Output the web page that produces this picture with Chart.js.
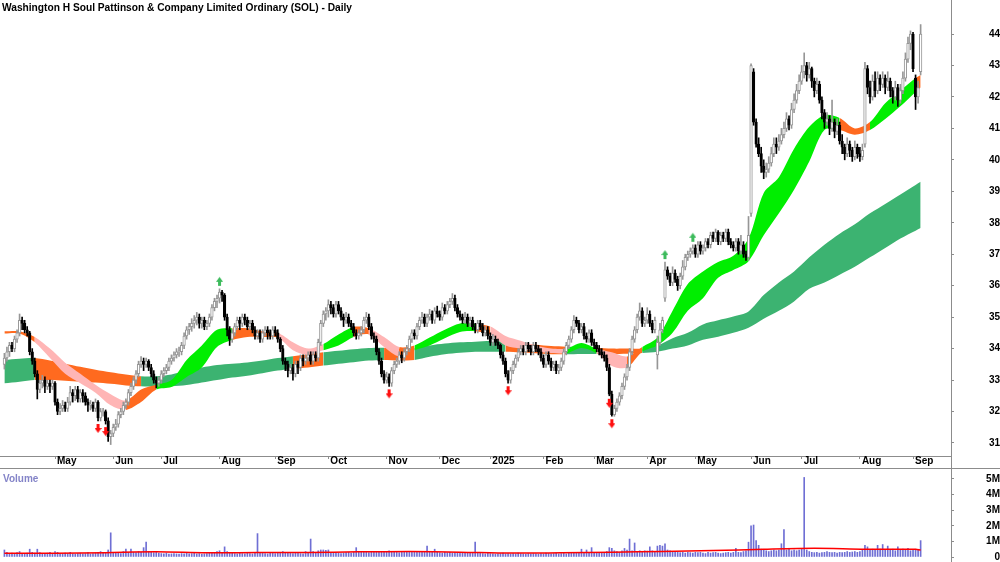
<!DOCTYPE html>
<html>
<head>
<meta charset="utf-8">
<script src="https://cdn.jsdelivr.net/npm/chart.js"></script>
<style>
body{margin:0;background:#fff;width:1000px;height:562px;overflow:hidden;position:relative;font-family:"Liberation Sans",Arial,sans-serif}
canvas{position:absolute;left:0}
#price{top:0}
#vol{top:469px}
#title{position:absolute;left:2px;top:2px;font-weight:bold;font-size:10.2px;color:#000;white-space:nowrap}
#vlabel{position:absolute;left:3px;top:473px;font-weight:bold;font-size:10px;color:#8484c8}
.rule{position:absolute;background:#8c8c8c}
</style>
</head>
<body>
<canvas id="price" width="1000" height="469"></canvas>
<canvas id="vol" width="1000" height="93"></canvas>
<div id="title">Washington H Soul Pattinson &amp; Company Limited Ordinary (SOL) - Daily</div>
<div id="vlabel">Volume</div>
<div class="rule" style="left:0;top:468px;width:1000px;height:1px"></div>
<div class="rule" style="left:951px;top:456px;width:1px;height:13px"></div>
<script>
// daily bars, 2 Apr 2024 .. 4 Sep 2025 (index = trading day)
const opens = [
33.5,33.7,33.9,34.1,34.0,34.3,34.5,34.9,34.8,34.6,
34.5,33.9,33.6,33.2,32.7,32.9,33.0,32.8,32.9,32.8,
32.9,32.3,32.0,32.1,32.2,32.1,32.3,32.6,32.5,32.7,
32.4,32.6,32.5,32.3,32.2,32.2,32.1,32.3,31.8,32.0,
32.0,31.7,31.2,31.3,31.5,31.6,31.9,32.0,32.2,32.3,
32.6,32.8,33.0,33.2,33.5,33.6,33.5,33.6,33.4,33.2,
33.0,32.9,33.0,33.2,33.3,33.4,33.6,33.7,33.8,33.9,
33.9,34.1,34.4,34.6,34.7,34.8,34.9,35.0,34.8,34.9,
34.7,34.8,35.0,35.3,35.5,35.6,35.8,35.7,35.0,34.6,
34.3,34.5,34.7,34.9,34.8,35.0,34.9,34.7,34.8,34.6,
34.4,34.5,34.3,34.5,34.6,34.5,34.4,34.6,34.5,34.3,
34.0,33.6,33.5,33.3,33.4,33.2,33.5,33.4,33.7,33.6,
33.7,33.8,33.6,33.8,33.7,34.2,34.8,35.1,35.2,35.4,
35.3,35.1,35.4,35.2,35.0,34.9,35.0,34.8,34.7,34.5,
34.4,34.5,34.6,34.9,35.0,34.7,34.4,34.3,33.9,33.6,
33.2,33.0,33.1,32.9,33.3,33.5,33.6,33.8,33.7,33.9,
34.0,34.3,34.5,34.4,34.7,34.9,35.0,34.8,35.0,35.1,
34.9,35.2,35.1,35.0,35.3,35.2,35.4,35.5,35.6,35.3,
35.1,35.0,34.9,35.0,34.8,34.9,34.7,34.6,34.8,34.7,
34.5,34.6,34.4,34.2,34.3,34.2,34.1,33.8,33.6,33.2,
33.0,33.3,33.5,33.7,33.9,34.0,33.9,34.1,34.0,33.9,
34.1,34.0,33.9,33.7,33.5,33.8,33.6,33.4,33.5,33.3,
33.4,33.6,33.9,34.1,34.3,34.6,34.9,34.8,34.6,34.7,
34.4,34.3,34.5,34.2,34.1,34.0,33.9,33.8,33.7,33.4,
32.55,31.9,32.1,32.3,32.5,32.8,33.1,33.4,33.9,34.3,
34.6,35.0,35.2,34.8,34.9,35.1,34.8,34.6,33.8,34.2,
34.6,35.6,36.5,36.3,36.1,36.4,36.2,36.0,36.3,36.6,
36.9,37.0,37.1,37.2,37.0,37.3,37.1,37.2,37.4,37.3,
37.6,37.5,37.7,37.4,37.6,37.5,37.7,37.4,37.3,37.2,
37.4,37.1,37.3,37.0,36.9,38.3,42.8,41.2,40.5,40.2,
39.8,39.6,39.7,39.9,40.2,40.5,40.4,40.6,40.8,41.0,
41.3,41.1,41.6,41.9,42.2,42.5,42.8,43.0,42.7,42.9,
42.5,42.2,42.4,41.9,41.5,41.2,41.3,41.0,41.2,40.9,
41.1,40.6,40.4,40.2,40.5,40.3,40.1,40.4,40.2,40.1,
40.5,42.9,42.3,42.0,42.5,42.2,42.6,42.4,42.6,42.3,
42.5,42.2,42.0,42.3,41.9,42.2,42.6,43.2,43.7,44.0,
42.6,42.0,42.8];

const highs = [
33.85,34.05,34.2,34.2,34.4,34.6,35.1,35.0,34.9,34.7,
34.55,34.0,33.7,33.3,33.0,33.15,33.1,33.0,33.0,33.0,
32.95,32.4,32.25,32.35,32.3,32.45,32.8,32.7,32.8,32.8,
32.7,32.7,32.6,32.4,32.35,32.3,32.4,32.35,32.1,32.1,
32.05,31.8,31.4,31.6,31.75,32.0,32.1,32.3,32.4,32.7,
32.9,33.1,33.3,33.6,33.75,33.7,33.7,33.65,33.5,33.3,
33.1,33.1,33.3,33.4,33.5,33.7,33.8,33.9,34.0,34.05,
34.2,34.5,34.7,34.8,34.95,35.05,35.15,35.1,35.0,35.0,
34.9,35.1,35.4,35.6,35.7,35.9,35.85,35.75,35.1,34.7,
34.6,34.8,35.0,35.0,35.1,35.1,35.0,34.9,34.9,34.7,
34.6,34.6,34.6,34.7,34.7,34.6,34.7,34.7,34.6,34.35,
34.1,33.7,33.6,33.5,33.5,33.6,33.6,33.8,33.8,33.8,
33.9,33.9,33.9,33.9,34.3,34.9,35.2,35.3,35.55,35.5,
35.4,35.5,35.5,35.3,35.1,35.15,35.1,34.9,34.8,34.6,
34.6,34.7,35.0,35.15,35.1,34.8,34.5,34.4,34.0,33.7,
33.3,33.25,33.2,33.4,33.6,33.7,33.9,33.9,34.0,34.1,
34.4,34.6,34.6,34.8,35.0,35.15,35.1,35.1,35.25,35.2,
35.3,35.35,35.2,35.45,35.4,35.5,35.6,35.75,35.7,35.4,
35.2,35.1,35.15,35.1,35.0,35.0,34.8,34.9,34.9,34.8,
34.7,34.7,34.5,34.45,34.4,34.3,34.15,33.9,33.7,33.3,
33.4,33.6,33.8,34.0,34.1,34.1,34.2,34.2,34.1,34.2,
34.2,34.1,34.0,33.8,33.9,33.9,33.7,33.6,33.6,33.5,
33.7,34.0,34.2,34.4,34.7,35.05,35.0,34.9,34.8,34.8,
34.5,34.6,34.6,34.3,34.2,34.1,34.0,33.9,33.8,33.5,
32.65,32.2,32.4,32.6,32.9,33.2,33.5,34.0,34.4,34.7,
35.1,35.45,35.3,35.0,35.3,35.2,34.9,35.0,34.4,34.8,
35.0,36.75,36.6,36.4,36.6,36.5,36.3,36.4,36.8,37.0,
37.1,37.2,37.3,37.3,37.4,37.4,37.3,37.5,37.5,37.7,
37.7,37.8,37.75,37.7,37.7,37.8,37.8,37.5,37.4,37.5,
37.5,37.6,37.4,37.1,38.2,43.05,42.9,41.3,40.7,40.4,
40.0,39.9,40.1,40.4,40.7,40.7,40.8,41.0,41.2,41.5,
41.4,41.8,42.1,42.4,42.7,43.0,43.4,43.1,43.1,42.95,
42.6,42.6,42.5,42.0,41.6,41.5,41.4,41.9,41.3,41.3,
41.2,40.8,40.5,40.7,40.6,40.4,40.6,40.5,40.4,40.5,
43.1,43.0,42.5,42.7,42.8,42.8,42.7,42.8,42.7,42.8,
42.6,42.3,42.5,42.4,42.4,42.8,43.4,43.9,44.1,44.05,
42.7,42.5,44.3];

const lows = [
33.35,33.6,33.75,33.9,33.9,34.2,34.4,34.6,34.5,34.4,
33.8,33.5,33.1,32.4,32.6,32.75,32.6,32.7,32.6,32.7,
32.2,31.9,31.9,32.0,32.0,32.0,32.2,32.3,32.35,32.3,
32.3,32.3,32.2,32.0,32.05,32.0,32.0,31.7,31.7,31.85,
31.6,31.05,30.95,31.2,31.4,31.5,31.8,31.9,32.1,32.2,
32.5,32.7,32.9,33.1,33.4,33.3,33.4,33.3,33.1,32.9,
32.75,32.8,32.9,33.1,33.2,33.3,33.5,33.6,33.7,33.75,
33.8,34.0,34.3,34.45,34.55,34.65,34.75,34.65,34.65,34.6,
34.6,34.7,34.9,35.2,35.3,35.45,35.5,34.9,34.4,34.1,
34.2,34.4,34.6,34.6,34.7,34.75,34.6,34.6,34.5,34.3,
34.3,34.2,34.2,34.4,34.3,34.3,34.3,34.4,34.2,33.9,
33.5,33.3,33.1,33.2,33.0,33.1,33.2,33.3,33.45,33.5,
33.6,33.5,33.5,33.6,33.6,34.1,34.7,34.9,35.0,35.1,
35.0,35.0,35.1,34.9,34.7,34.8,34.7,34.6,34.4,34.3,
34.3,34.4,34.5,34.8,34.6,34.3,34.2,33.8,33.5,33.1,
32.9,32.9,32.8,32.8,33.2,33.4,33.5,33.55,33.6,33.8,
33.9,34.2,34.3,34.3,34.6,34.8,34.7,34.7,34.9,34.8,
34.8,35.0,34.9,34.9,35.1,35.1,35.3,35.4,35.2,35.0,
34.9,34.8,34.8,34.7,34.7,34.6,34.5,34.5,34.6,34.4,
34.4,34.3,34.1,34.1,34.1,34.0,33.7,33.5,33.1,32.9,
32.9,33.2,33.4,33.6,33.8,33.8,33.8,33.9,33.8,33.8,
33.9,33.8,33.6,33.4,33.4,33.5,33.3,33.3,33.2,33.2,
33.3,33.5,33.8,34.0,34.2,34.5,34.7,34.5,34.5,34.3,
34.2,34.2,34.1,34.0,33.9,33.8,33.7,33.6,33.3,32.5,
31.85,31.85,32.0,32.2,32.4,32.7,33.0,33.3,33.8,34.2,
34.5,34.9,34.7,34.7,34.8,34.7,34.5,34.5,33.35,34.1,
34.5,35.5,36.2,36.0,36.0,36.1,35.85,35.9,36.2,36.5,
36.8,36.9,37.0,36.9,36.9,37.0,37.0,37.1,37.2,37.2,
37.4,37.4,37.3,37.3,37.4,37.4,37.3,37.2,37.1,37.1,
37.0,37.0,36.9,36.8,36.8,38.2,41.1,40.4,40.1,39.6,
39.4,39.45,39.6,39.8,40.1,40.2,40.3,40.5,40.7,40.9,
40.95,41.0,41.5,41.8,42.1,42.4,42.6,42.5,42.6,42.3,
42.0,42.1,41.8,41.3,41.0,41.1,40.8,40.9,40.7,40.8,
40.5,40.2,40.0,40.1,40.1,39.95,40.0,40.05,39.95,40.0,
40.4,42.1,41.8,41.9,42.0,42.1,42.2,42.3,42.1,42.2,
42.0,41.8,41.9,41.7,41.8,42.1,42.5,43.1,43.5,42.8,
41.6,41.8,42.7];

const closes = [
33.7,33.9,34.1,34.0,34.3,34.5,34.9,34.8,34.6,34.5,
33.9,33.6,33.2,32.7,32.9,33.0,32.8,32.9,32.8,32.9,
32.3,32.0,32.1,32.2,32.1,32.3,32.6,32.5,32.7,32.4,
32.6,32.5,32.3,32.2,32.2,32.1,32.3,31.8,32.0,32.0,
31.7,31.2,31.3,31.5,31.6,31.9,32.0,32.2,32.3,32.6,
32.8,33.0,33.2,33.5,33.6,33.5,33.6,33.4,33.2,33.0,
32.9,33.0,33.2,33.3,33.4,33.6,33.7,33.8,33.9,33.9,
34.1,34.4,34.6,34.7,34.8,34.9,35.0,34.8,34.9,34.7,
34.8,35.0,35.3,35.5,35.6,35.8,35.7,35.0,34.6,34.3,
34.5,34.7,34.9,34.8,35.0,34.9,34.7,34.8,34.6,34.4,
34.5,34.3,34.5,34.6,34.5,34.4,34.6,34.5,34.3,34.0,
33.6,33.5,33.3,33.4,33.2,33.5,33.4,33.7,33.6,33.7,
33.8,33.6,33.8,33.7,34.2,34.8,35.1,35.2,35.4,35.3,
35.1,35.4,35.2,35.0,34.9,35.0,34.8,34.7,34.5,34.4,
34.5,34.6,34.9,35.0,34.7,34.4,34.3,33.9,33.6,33.2,
33.0,33.1,32.9,33.3,33.5,33.6,33.8,33.7,33.9,34.0,
34.3,34.5,34.4,34.7,34.9,35.0,34.8,35.0,35.1,34.9,
35.2,35.1,35.0,35.3,35.2,35.4,35.5,35.6,35.3,35.1,
35.0,34.9,35.0,34.8,34.9,34.7,34.6,34.8,34.7,34.5,
34.6,34.4,34.2,34.3,34.2,34.1,33.8,33.6,33.2,33.0,
33.3,33.5,33.7,33.9,34.0,33.9,34.1,34.0,33.9,34.1,
34.0,33.9,33.7,33.5,33.8,33.6,33.4,33.5,33.3,33.4,
33.6,33.9,34.1,34.3,34.6,34.9,34.8,34.6,34.7,34.4,
34.3,34.5,34.2,34.1,34.0,33.9,33.8,33.7,33.4,32.55,
31.9,32.1,32.3,32.5,32.8,33.1,33.4,33.9,34.3,34.6,
35.0,35.2,34.8,34.9,35.1,34.8,34.6,34.9,34.2,34.6,
34.9,36.5,36.3,36.1,36.4,36.2,36.0,36.3,36.6,36.9,
37.0,37.1,37.2,37.0,37.3,37.1,37.2,37.4,37.3,37.6,
37.5,37.7,37.4,37.6,37.5,37.7,37.4,37.3,37.2,37.4,
37.1,37.3,37.0,36.9,37.6,43.0,41.2,40.5,40.2,39.8,
39.6,39.7,39.9,40.2,40.5,40.4,40.6,40.8,41.0,41.3,
41.1,41.6,41.9,42.2,42.5,42.8,43.0,42.7,42.9,42.5,
42.2,42.4,41.9,41.5,41.2,41.3,41.0,41.2,40.9,41.1,
40.6,40.4,40.2,40.5,40.3,40.1,40.4,40.2,40.1,40.3,
42.9,42.3,42.0,42.5,42.2,42.6,42.4,42.6,42.3,42.5,
42.2,42.0,42.3,41.9,42.2,42.6,43.2,43.7,44.0,42.9,
42.0,42.3,44.0];

// volume in millions of shares
const volumes = [
0.45,0.3,0.22,0.25,0.2,0.28,0.35,0.22,0.2,0.25,
0.5,0.3,0.25,0.5,0.28,0.22,0.2,0.25,0.3,0.22,
0.35,0.3,0.22,0.2,0.25,0.22,0.3,0.2,0.18,0.22,
0.25,0.2,0.22,0.28,0.2,0.22,0.25,0.3,0.35,0.28,
0.3,0.45,1.55,0.3,0.25,0.28,0.22,0.35,0.5,0.3,
0.5,0.3,0.28,0.35,0.3,0.6,0.95,0.35,0.3,0.28,
0.3,0.25,0.22,0.2,0.25,0.18,0.2,0.22,0.2,0.18,
0.22,0.2,0.25,0.2,0.22,0.25,0.2,0.22,0.18,0.2,
0.22,0.25,0.28,0.3,0.35,0.4,0.3,0.65,0.35,0.28,
0.25,0.22,0.2,0.25,0.22,0.2,0.25,0.22,0.2,0.3,
1.5,0.3,0.25,0.22,0.2,0.25,0.3,0.22,0.25,0.3,
0.35,0.3,0.25,0.28,0.22,0.25,0.3,0.22,0.2,0.35,
0.3,1.15,0.35,0.3,0.4,0.45,0.45,0.42,0.45,0.3,
0.28,0.3,0.25,0.22,0.25,0.28,0.3,0.25,0.3,0.6,
0.35,0.3,0.32,0.3,0.28,0.35,0.3,0.32,0.35,0.3,
0.33,0.35,0.4,0.3,0.32,0.3,0.28,0.32,0.3,0.35,
0.32,0.3,0.33,0.35,0.3,0.32,0.35,0.7,0.3,0.33,
0.5,0.3,0.28,0.25,0.3,0.28,0.3,0.25,0.28,0.3,
0.3,0.25,0.28,0.3,0.25,0.28,0.95,0.3,0.25,0.22,
0.2,0.25,0.22,0.2,0.18,0.2,0.22,0.25,0.2,0.22,
0.2,0.22,0.2,0.25,0.22,0.2,0.18,0.22,0.2,0.22,
0.2,0.18,0.22,0.2,0.25,0.22,0.2,0.22,0.25,0.2,
0.22,0.25,0.2,0.25,0.3,0.28,0.3,0.25,0.5,0.3,
0.45,0.3,0.6,0.3,0.28,0.25,0.3,0.28,0.35,0.6,
0.55,0.4,0.35,0.3,0.4,0.55,0.45,1.15,0.4,0.9,
0.35,0.4,0.35,0.4,0.38,0.65,0.4,0.35,0.7,0.75,
0.7,0.85,0.45,0.4,0.3,0.35,0.3,0.28,0.3,0.25,
0.3,0.28,0.25,0.3,0.28,0.3,0.25,0.22,0.3,0.25,
0.28,0.3,0.25,0.22,0.25,0.28,0.3,0.25,0.3,0.55,
0.3,0.28,0.35,0.4,0.95,2.0,2.05,1.05,0.75,0.5,
0.45,0.4,0.35,0.4,0.45,0.4,0.45,0.85,1.75,0.45,
0.55,0.4,0.45,0.4,0.45,0.5,5.1,0.45,0.35,0.3,
0.28,0.3,0.25,0.28,0.3,0.35,0.3,0.28,0.3,0.25,
0.3,0.28,0.3,0.35,0.3,0.32,0.35,0.3,0.35,0.45,
0.75,0.65,0.45,0.5,0.45,0.75,0.5,0.8,0.45,0.7,
0.45,0.5,0.4,0.65,0.45,0.5,0.45,0.55,0.4,0.45,
0.5,0.45,1.05];

const volAvgIdx = [0,20,40,60,80,100,120,140,160,180,200,220,240,260,280,300,320,340,360,362];
const volAvg = [0.24,0.24,0.28,0.33,0.27,0.29,0.29,0.33,0.35,0.31,0.25,0.27,0.30,0.36,0.41,0.50,0.56,0.50,0.50,0.45];

// moving-average ribbons, read every 6 bars
const bandIdx = [0,6,12,18,24,30,36,42,48,54,60,66,72,78,84,90,96,102,108,114,
120,126,132,138,144,150,156,162,168,174,180,186,192,198,204,210,216,222,228,234,
240,246,252,258,264,270,276,282,288,294,300,306,312,318,324,330,336,342,348,354,360,362];

const shortUpper = [34.55,34.55,34.37,34.00,33.55,33.20,32.85,32.55,32.35,32.70,
32.85,33.00,33.64,34.10,34.60,34.65,34.65,34.55,34.50,34.20,
34.00,34.15,34.45,34.69,34.65,34.37,34.05,34.10,34.35,34.60,
34.80,34.78,34.70,34.40,34.25,34.10,34.00,34.00,34.18,34.00,
33.88,33.75,34.05,34.35,35.20,36.05,36.45,36.75,36.95,37.50,
38.95,39.45,40.35,41.05,41.42,41.33,41.00,41.20,41.80,42.20,
42.60,42.70];
const shortLower = [34.48,34.48,34.20,33.70,33.20,32.90,32.60,32.20,32.05,32.30,
32.70,32.78,33.10,33.40,34.05,34.27,34.37,34.37,34.35,33.95,
33.80,33.95,34.10,34.37,34.45,34.05,33.75,33.95,34.10,34.33,
34.53,34.55,34.45,34.10,34.00,33.90,33.86,33.85,34.02,33.85,
33.45,33.40,33.90,34.10,34.50,35.20,35.60,36.25,36.50,36.78,
37.60,38.30,39.05,39.95,40.95,40.95,40.80,40.95,41.30,41.70,
42.16,42.30];
const shortTrend = ['side','side','down','down','down','down','down','down','side','side',
'up','up','up','up','up','side','side','side','down','down',
'down','up','up','side','down','down','side','up','up','up',
'up','side','down','down','down','down','down','up','up','down',
'down','side','up','up','up','up','up','up','up','up',
'up','up','up','up','up','side','side','up','up','up',
'side','up'];

const longUpper = [33.64,33.68,33.70,33.62,33.52,33.42,33.33,33.25,33.18,33.12,
33.12,33.18,33.30,33.40,33.48,33.52,33.56,33.62,33.70,33.76,
33.82,33.88,33.93,33.98,34.02,34.03,34.00,34.02,34.10,34.16,
34.20,34.22,34.24,34.22,34.18,34.12,34.08,34.06,34.05,34.03,
34.00,34.00,34.00,34.10,34.33,34.50,34.77,34.90,35.02,35.18,
35.70,36.10,36.45,36.90,37.30,37.65,37.95,38.30,38.60,38.90,
39.20,39.30];
const longLower = [32.90,32.95,33.00,33.00,32.98,32.95,32.92,32.88,32.83,32.80,
32.78,32.80,32.84,32.92,33.00,33.08,33.14,33.22,33.30,33.36,
33.40,33.46,33.52,33.57,33.62,33.64,33.62,33.64,33.74,33.82,
33.87,33.90,33.90,33.90,33.88,33.85,33.82,33.82,33.83,33.83,
33.83,33.84,33.86,33.90,34.00,34.10,34.28,34.38,34.50,34.66,
34.95,35.20,35.50,35.90,36.10,36.35,36.60,36.90,37.20,37.50,
37.75,37.83];
const longTrend = ['up','up','down','down','down','down','down','down','down','up',
'up','up','up','up','up','up','up','up','up','down',
'down','up','up','up','up','down','down','up','up','up',
'up','up','up','down','down','down','down','up','up','down',
'down','down','up','up','up','up','up','up','up','up',
'up','up','up','up','up','up','up','up','up','up',
'up','up'];

const sellSignals = [37,40,152,199,239,240];
const buySignals = [85,261,272];

const monthTicks = [20,43,62,85,107,128,151,172,192,213,233,254,273,295,315,338,359];
const monthLabels = ["May","Jun","Jul","Aug","Sep","Oct","Nov","Dec","2025","Feb","Mar","Apr","May","Jun","Jul","Aug","Sep"];
const priceTicks = [31,32,33,34,35,36,37,38,39,40,41,42,43,44];
const volumeTicks = [0,1,2,3,4,5];

Chart.defaults.font.family = '"Liberation Sans", Arial, sans-serif';

const GRAY = '#8c8c8c';
const shortColors = {up:'#00ee00', side:'#ff6a1f', down:'#ffb5b5'};
const longColors = {up:'#3cb371', down:'#ff6a1f'};
const xMin = -1.738, xMax = 374.0;

const isUp = i => closes[i] >= opens[i];

function arrow(color, down){
  const c = document.createElement('canvas');
  c.width = 7; c.height = 26;
  const g = c.getContext('2d');
  g.fillStyle = color;
  g.beginPath();
  if(down){
    g.rect(2,16,3,4);
    g.moveTo(0,20); g.lineTo(7,20); g.lineTo(3.5,25);
  }else{
    g.rect(2,6,3,4);
    g.moveTo(0,6); g.lineTo(7,6); g.lineTo(3.5,1);
  }
  g.fill();
  return c;
}

function ribbon(upper, lower, trend, colors, ord){
  return [{
    type:'line',
    data: bandIdx.map((x,k)=>({x:x, y:upper[k]})),
    fill:'+1', borderWidth:0, borderColor:'rgba(0,0,0,0)', pointRadius:0, tension:0.3,
    backgroundColor: colors.up,
    segment:{backgroundColor: c => colors[trend[c.p0DataIndex]]},
    order: ord
  },{
    type:'line',
    data: bandIdx.map((x,k)=>({x:x, y:lower[k]})),
    fill:false, borderWidth:0, borderColor:'rgba(0,0,0,0)', pointRadius:0, tension:0.3,
    order: ord
  }];
}

function noPad(s){ s.paddingTop = 0; s.paddingBottom = 0; s.paddingLeft = 0; s.paddingRight = 0; }

new Chart(document.getElementById('price'), {
  type:'bar',
  data:{datasets:[
    ...ribbon(longUpper, longLower, longTrend, longColors, 5),
    ...ribbon(shortUpper, shortLower, shortTrend, shortColors, 4),
    {
      type:'bar', order:3, grouped:false, barThickness:1,
      data: closes.map((c,i)=>({x:i, y:[lows[i], highs[i]]})),
      backgroundColor: c => isUp(c.dataIndex) ? '#969696' : '#000'
    },
    {
      type:'bar', order:2, grouped:false, barThickness:2.6, minBarLength:1,
      data: closes.map((c,i)=>({x:i, y:[opens[i], c]})),
      backgroundColor: c => isUp(c.dataIndex) ? '#fff' : '#000',
      borderColor: c => isUp(c.dataIndex) ? '#969696' : '#000',
      borderWidth:1, borderSkipped:false
    },
    {
      type:'line', order:1, showLine:false,
      data: sellSignals.map(i=>({x:i, y:lows[i]})),
      pointStyle: arrow('#ff1010', true), pointRadius:4
    },
    {
      type:'line', order:1, showLine:false,
      data: buySignals.map(i=>({x:i, y:highs[i]})),
      pointStyle: arrow('#3dbb5c', false), pointRadius:4
    }
  ]},
  options:{
    responsive:false, animation:false, devicePixelRatio:1, events:[],
    layout:{padding:0, autoPadding:false},
    plugins:{legend:{display:false}, tooltip:{enabled:false}},
    scales:{
      x:{
        type:'linear', min:xMin, max:xMax, offset:false,
        afterBuildTicks: s => { s.ticks = monthTicks.map(v=>({value:v})); },
        afterFit: s => { s.height = 13; noPad(s); },
        ticks:{autoSkip:false, maxRotation:0, align:'start', labelOffset:2, padding:-4,
          color:'#000', font:{size:10, weight:'bold'},
          callback:(v,k)=>monthLabels[k]},
        grid:{drawOnChartArea:false, tickLength:3, color:GRAY, offset:false},
        border:{color:GRAY}
      },
      y:{
        position:'right', min:30.586, max:45.081,
        afterBuildTicks: s => { s.ticks = priceTicks.map(v=>({value:v})); },
        afterFit: s => { s.width = 49; noPad(s); },
        ticks:{crossAlign:'far', padding:28, color:'#000', font:{size:10, weight:'bold'}},
        grid:{drawOnChartArea:false, tickLength:3, color:GRAY},
        border:{color:GRAY}
      }
    }
  }
});

new Chart(document.getElementById('vol'), {
  type:'bar',
  data:{datasets:[
    {
      type:'line', order:0,
      data: volAvgIdx.map((x,k)=>({x:x, y:volAvg[k]})),
      borderColor:'#ff0000', borderWidth:1.5, pointRadius:0, tension:0.3
    },
    {
      type:'bar', order:1, grouped:false, barThickness:1,
      data: volumes.map((v,i)=>({x:i, y:v})),
      backgroundColor:'#6f6fd4'
    }
  ]},
  options:{
    responsive:false, animation:false, devicePixelRatio:1, events:[],
    layout:{padding:0, autoPadding:false},
    plugins:{legend:{display:false}, tooltip:{enabled:false}},
    scales:{
      x:{type:'linear', display:false, min:xMin, max:xMax, offset:false},
      y:{
        position:'right', min:-0.3205, max:5.641,
        afterBuildTicks: s => { s.ticks = volumeTicks.map(v=>({value:v})); },
        afterFit: s => { s.width = 49; noPad(s); },
        ticks:{crossAlign:'far', padding:27, color:'#000', font:{size:10, weight:'bold'},
          callback: v => v === 0 ? '0' : v + 'M'},
        grid:{drawOnChartArea:false, tickLength:3, color:GRAY},
        border:{color:GRAY}
      }
    }
  }
});
</script>
</body>
</html>
